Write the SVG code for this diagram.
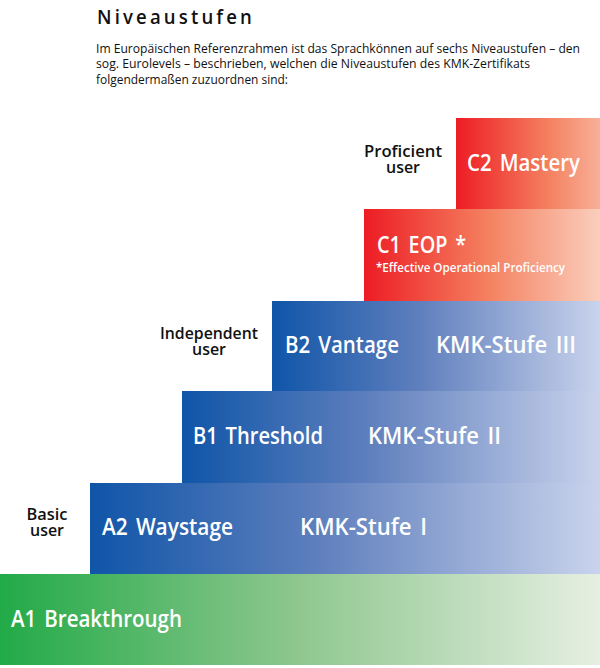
<svg xmlns="http://www.w3.org/2000/svg" width="600" height="668" viewBox="0 0 600 668">
<style>
text{font-family:"Open Sans",Lato,"Liberation Sans",sans-serif}
.t{fill:#fff;font-size:23px;font-weight:600;word-spacing:3px}
.l{fill:#111;font-size:17px;font-weight:600;text-anchor:middle}
.b{fill:#111;font-size:12.5px}
</style>
<defs>
<linearGradient id="r1" gradientUnits="userSpaceOnUse" x1="456" y1="0" x2="640" y2="0"><stop offset="0" stop-color="#ed1c24"/><stop offset=".5" stop-color="#f4805f"/><stop offset="1" stop-color="#fbd5c5"/></linearGradient>
<linearGradient id="r2" gradientUnits="userSpaceOnUse" x1="364" y1="0" x2="610" y2="0"><stop offset="0" stop-color="#ed1c24"/><stop offset=".5" stop-color="#f4805f"/><stop offset="1" stop-color="#fbd5c5"/></linearGradient>
<linearGradient id="bl" gradientUnits="userSpaceOnUse" x1="272" y1="0" x2="600" y2="0"><stop offset="0" stop-color="#0f55a8"/><stop offset=".45" stop-color="#5f7fbd"/><stop offset="1" stop-color="#c9d3ec"/></linearGradient>
<linearGradient id="bl2" gradientUnits="userSpaceOnUse" x1="182" y1="0" x2="600" y2="0"><stop offset="0" stop-color="#0f55a8"/><stop offset=".45" stop-color="#5f7fbd"/><stop offset="1" stop-color="#c9d3ec"/></linearGradient>
<linearGradient id="bl3" gradientUnits="userSpaceOnUse" x1="90" y1="0" x2="600" y2="0"><stop offset="0" stop-color="#0f55a8"/><stop offset=".45" stop-color="#5f7fbd"/><stop offset="1" stop-color="#c9d3ec"/></linearGradient>
<linearGradient id="g" gradientUnits="userSpaceOnUse" x1="0" y1="0" x2="600" y2="0"><stop offset="0" stop-color="#22aa48"/><stop offset=".5" stop-color="#8fc78f"/><stop offset="1" stop-color="#e6efe2"/></linearGradient>
</defs>
<g id="heading">
<text x="97" y="24" font-size="20" font-weight="600" fill="#111" letter-spacing="3.4" textLength="158" lengthAdjust="spacingAndGlyphs">Niveaustufen</text>
<text class="b" x="96" y="53" textLength="484" lengthAdjust="spacingAndGlyphs">Im Europäischen Referenzrahmen ist das Sprachkönnen auf sechs Niveaustufen – den</text>
<text class="b" x="96" y="68" textLength="434" lengthAdjust="spacingAndGlyphs">sog. Eurolevels – beschrieben, welchen die Niveaustufen des KMK-Zertifikats</text>
<text class="b" x="96" y="84" textLength="192" lengthAdjust="spacingAndGlyphs">folgendermaßen zuzuordnen sind:</text>
</g>
<g id="c2"><rect x="456" y="118" width="144" height="92" fill="url(#r1)"/>
<text class="t" x="467" y="171" textLength="113" lengthAdjust="spacingAndGlyphs">C2 Mastery</text></g>
<g id="c1"><rect x="364" y="209" width="236" height="92" fill="url(#r2)"/>
<text class="t" x="377" y="253" textLength="89" lengthAdjust="spacingAndGlyphs">C1 EOP *</text>
<text x="376" y="272" fill="#fff" font-size="12.5" font-weight="600" textLength="189" lengthAdjust="spacingAndGlyphs">*Effective Operational Proficiency</text></g>
<g id="b2"><rect x="272" y="301" width="328" height="90" fill="url(#bl)"/>
<text class="t" x="285" y="353" textLength="114" lengthAdjust="spacingAndGlyphs">B2 Vantage</text>
<text class="t" x="436" y="353" textLength="140" lengthAdjust="spacingAndGlyphs">KMK-Stufe III</text></g>
<g id="b1"><rect x="182" y="391" width="418" height="92" fill="url(#bl2)"/>
<text class="t" x="193" y="444" textLength="130" lengthAdjust="spacingAndGlyphs">B1 Threshold</text>
<text class="t" x="368" y="444" textLength="133" lengthAdjust="spacingAndGlyphs">KMK-Stufe II</text></g>
<g id="a2"><rect x="90" y="483" width="510" height="91" fill="url(#bl3)"/>
<text class="t" x="102" y="535" textLength="131" lengthAdjust="spacingAndGlyphs">A2 Waystage</text>
<text class="t" x="300" y="535" textLength="127" lengthAdjust="spacingAndGlyphs">KMK-Stufe I</text></g>
<g id="a1"><rect x="0" y="574" width="600" height="91" fill="url(#g)"/>
<text class="t" x="11" y="627" textLength="171" lengthAdjust="spacingAndGlyphs">A1 Breakthrough</text></g>
<g id="proficient"><text class="l" x="403" y="157" textLength="78" lengthAdjust="spacingAndGlyphs">Proficient</text><text class="l" x="403" y="173" textLength="34" lengthAdjust="spacingAndGlyphs">user</text></g>
<g id="independent"><text class="l" x="209" y="339" textLength="98" lengthAdjust="spacingAndGlyphs">Independent</text><text class="l" x="209" y="355" textLength="34" lengthAdjust="spacingAndGlyphs">user</text></g>
<g id="basic"><text class="l" x="47" y="520" textLength="41" lengthAdjust="spacingAndGlyphs">Basic</text><text class="l" x="47" y="536" textLength="34" lengthAdjust="spacingAndGlyphs">user</text></g>
<g id="connectors"></g>
</svg>
